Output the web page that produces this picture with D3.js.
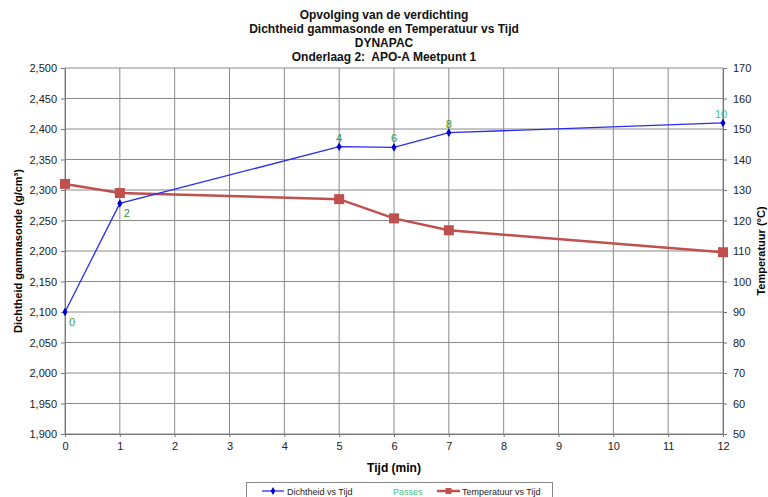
<!DOCTYPE html>
<html>
<head>
<meta charset="utf-8">
<script src="https://cdn.jsdelivr.net/npm/d3@7"></script>
<style>
body { margin: 0; background: #fff; font-family: 'Liberation Sans', Arial, sans-serif; }
text { font-family: 'Liberation Sans', Arial, sans-serif; white-space: pre; }
</style>
</head>
<body>
<svg id="chart"></svg>
<script>
// Data
var tijd = [0, 1, 5, 6, 7, 12];
var dichtheid = [2100, 2278, 2371, 2370, 2394, 2410];
var temperatuur = [132, 129, 127, 120.7, 116.8, 109.6];
var passes = ['0', '2', '4', '6', '8', '10'];
var titles = ['Opvolging van de verdichting', 'Dichtheid gammasonde en Temperatuur vs Tijd', 'DYNAPAC', 'Onderlaag 2:  APO-A Meetpunt 1'];

var W = 768, H = 497;
var pLeft = 65, pRight = 723, pTop = 68, pBottom = 434;

var svg = d3.select('#chart').attr('width', W).attr('height', H);

var x = d3.scaleLinear().domain([0, 12]).range([pLeft, pRight]);
var yL = d3.scaleLinear().domain([1900, 2500]).range([pBottom, pTop]);
var yR = d3.scaleLinear().domain([50, 170]).range([pBottom, pTop]);

// grid
var grid = svg.append('g');
grid.selectAll('line.v').data(d3.range(0, 13)).enter().append('line')
    .attr('x1', function (d) { return x(d); }).attr('x2', function (d) { return x(d); })
    .attr('y1', pTop).attr('y2', pBottom)
    .attr('stroke', '#8a8a8a').attr('stroke-width', 1);
grid.selectAll('line.h').data(d3.range(1900, 2501, 50)).enter().append('line')
    .attr('x1', pLeft).attr('x2', pRight)
    .attr('y1', function (d) { return yL(d); }).attr('y2', function (d) { return yL(d); })
    .attr('stroke', '#8a8a8a').attr('stroke-width', 1);

// axes
var fmt = d3.format(',');
function styleAxis(g) {
    g.select('.domain').attr('stroke', '#777');
    g.selectAll('line').attr('stroke', '#777');
    g.selectAll('text').attr('font-size', 11).attr('fill', '#222');
}
svg.append('g').attr('transform', 'translate(' + pLeft + ',0)')
    .call(d3.axisLeft(yL).tickValues(d3.range(1900, 2501, 50)).tickFormat(fmt).tickSizeOuter(0).tickSize(4).tickPadding(4))
    .call(styleAxis);
svg.append('g').attr('transform', 'translate(' + pRight + ',0)')
    .call(d3.axisRight(yR).tickValues(d3.range(50, 171, 10)).tickSizeOuter(0).tickSize(4).tickPadding(6))
    .call(styleAxis);
svg.append('g').attr('transform', 'translate(0,' + pBottom + ')')
    .call(d3.axisBottom(x).ticks(12).tickSizeOuter(0).tickSize(3).tickPadding(5))
    .call(styleAxis);

// titles
svg.append('g').selectAll('text').data(titles).enter().append('text')
    .attr('x', 384).attr('y', function (d, i) { return 19 + i * 14; })
    .attr('text-anchor', 'middle').attr('font-size', 12).attr('font-weight', 'bold').attr('fill', '#111')
    .text(function (d) { return d; });

svg.append('text').attr('x', (pLeft + pRight) / 2).attr('y', 472)
    .attr('text-anchor', 'middle').attr('font-size', 12).attr('font-weight', 'bold').text('Tijd (min)');
svg.append('text').attr('transform', 'translate(22,' + (pTop + pBottom) / 2 + ')rotate(-90)')
    .attr('text-anchor', 'middle').attr('font-size', 11).attr('font-weight', 'bold')
    .text('Dichtheid gammasonde (g/cm³)');
svg.append('text').attr('transform', 'translate(765,' + (pTop + pBottom) / 2 + ')rotate(-90)')
    .attr('text-anchor', 'middle').attr('font-size', 11).attr('font-weight', 'bold')
    .text('Temperatuur (°C)');

// temperature line
var lineT = d3.line().x(function (d, i) { return x(tijd[i]); }).y(function (d) { return yR(d); });
svg.append('path').datum(temperatuur).attr('d', lineT)
    .attr('fill', 'none').attr('stroke', '#c0504d').attr('stroke-width', 2.5);
svg.append('g').selectAll('rect').data(temperatuur).enter().append('rect')
    .attr('x', function (d, i) { return x(tijd[i]) - 5; }).attr('y', function (d) { return yR(d) - 5; })
    .attr('width', 10).attr('height', 10).attr('fill', '#c0504d');

// density line
var lineD = d3.line().x(function (d, i) { return x(tijd[i]); }).y(function (d) { return yL(d); });
svg.append('path').datum(dichtheid).attr('d', lineD)
    .attr('fill', 'none').attr('stroke', '#2b2bf0').attr('stroke-width', 1.3);
svg.append('g').selectAll('path').data(dichtheid).enter().append('path')
    .attr('d', d3.symbol().type(d3.symbolDiamond).size(22))
    .attr('transform', function (d, i) { return 'translate(' + x(tijd[i]) + ',' + yL(d) + ')'; })
    .attr('fill', '#0000cc');

// passes labels
svg.append('g').selectAll('text').data(dichtheid).enter().append('text')
    .attr('x', function (d, i) { return x(tijd[i]) + (i < 2 ? 7 : (i === 5 ? -2 : 0)); })
    .attr('y', function (d, i) { return yL(d) + (i < 2 ? 14 : -5); })
    .attr('text-anchor', 'middle')
    .attr('font-size', 11)
    .attr('fill', function (d, i) { return i === 5 ? '#46c08a' : '#339933'; })
    .text(function (d, i) { return passes[i]; });

// legend
var lg = svg.append('g');
lg.append('rect').attr('x', 246.5).attr('y', 482.5).attr('width', 306).attr('height', 20)
    .attr('fill', '#fff').attr('stroke', '#888');
lg.append('line').attr('x1', 262).attr('x2', 284).attr('y1', 491).attr('y2', 491).attr('stroke', '#2b2bf0').attr('stroke-width', 1.3);
lg.append('path').attr('d', d3.symbol().type(d3.symbolDiamond).size(18)).attr('transform', 'translate(273,491)').attr('fill', '#0000cc');
lg.append('text').attr('x', 287).attr('y', 495).attr('font-size', 9).attr('fill', '#222').text('Dichtheid vs Tijd');
lg.append('text').attr('x', 393).attr('y', 495).attr('font-size', 9).attr('fill', '#46c08a').text('Passes');
lg.append('line').attr('x1', 437).attr('x2', 460).attr('y1', 491).attr('y2', 491).attr('stroke', '#c0504d').attr('stroke-width', 2.5);
lg.append('rect').attr('x', 445.5).attr('y', 488).attr('width', 6).attr('height', 6).attr('fill', '#c0504d');
lg.append('text').attr('x', 462).attr('y', 495).attr('font-size', 9).attr('fill', '#222').text('Temperatuur vs Tijd');
</script>
</body>
</html>
